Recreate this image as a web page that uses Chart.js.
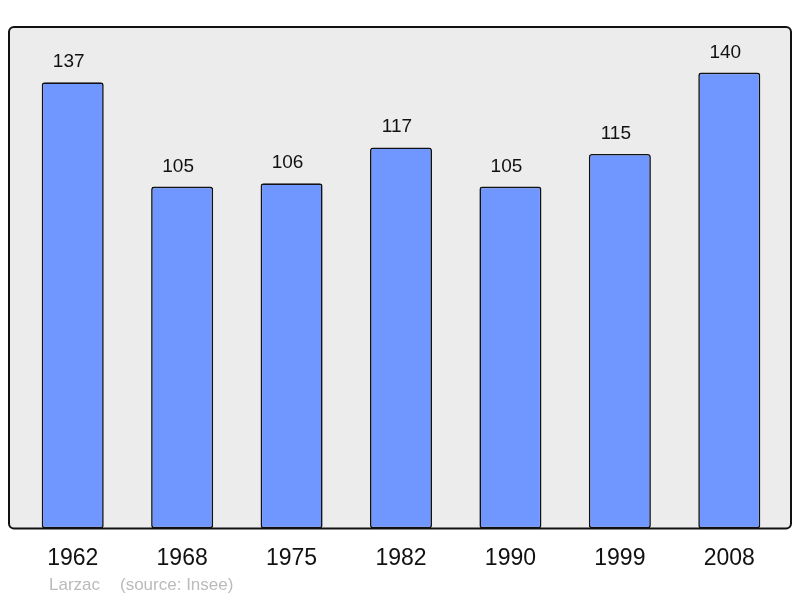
<!DOCTYPE html>
<html>
<head>
<meta charset="utf-8">
<script src="https://cdn.jsdelivr.net/npm/chart.js@4"></script>
<style>
  html, body { margin: 0; padding: 0; background: #fff; }
  #wrap { width: 800px; height: 598px; }
</style>
</head>
<body>
<div id="wrap"><canvas id="popChart" width="800" height="598"></canvas></div>
<script>
// Population data (Larzac, source: Insee)
const years = ['1962', '1968', '1975', '1982', '1990', '1999', '2008'];
const population = [137, 105, 106, 117, 105, 115, 140];
const footerPlace = 'Larzac';
const footerSource = '(source: Insee)';

// Grey rounded frame behind the plot
const framePlugin = {
  id: 'frame',
  beforeDraw(chart) {
    const { ctx, chartArea: a } = chart;
    const x = a.left - 9, y = a.top, w = (a.right + 7) - x, h = a.bottom - a.top;
    ctx.save();
    ctx.beginPath();
    ctx.roundRect(x, y, w, h, 5);
    ctx.fillStyle = '#ececec';
    ctx.fill();
    ctx.lineWidth = 2;
    ctx.strokeStyle = '#111';
    ctx.stroke();
    ctx.restore();
  }
};

// Numbers above bars + footer line
const labelPlugin = {
  id: 'valueLabels',
  afterDatasetsDraw(chart) {
    const { ctx } = chart;
    const meta = chart.getDatasetMeta(0);
    ctx.save();
    ctx.font = '19px "Liberation Sans", Arial, sans-serif';
    ctx.fillStyle = '#111';
    ctx.textAlign = 'center';
    ctx.textBaseline = 'alphabetic';
    meta.data.forEach((bar, i) => {
      ctx.fillText(String(population[i]), bar.x - 4, bar.y - 15);
    });
    ctx.font = '17px "Liberation Sans", Arial, sans-serif';
    ctx.fillStyle = '#bbbbbb';
    ctx.textAlign = 'left';
    ctx.fillText(footerPlace, 49, 590);
    ctx.fillText(footerSource, 120, 590);
    ctx.restore();
  }
};

new Chart(document.getElementById('popChart'), {
  type: 'bar',
  data: {
    labels: years,
    datasets: [{
      data: population,
      backgroundColor: '#7096ff',
      borderColor: '#111',
      borderWidth: 1.6,
      borderRadius: 3,
      borderSkipped: false,
      barPercentage: 0.567,
      categoryPercentage: 1
    }]
  },
  options: {
    responsive: false,
    animation: false,
    layout: { padding: { left: 18, right: 16, top: 27, bottom: 10 } },
    plugins: { legend: { display: false }, tooltip: { enabled: false } },
    scales: {
      x: {
        grid: { display: false, drawTicks: false },
        border: { display: false },
        ticks: {
          color: '#111',
          padding: 16,
          font: { family: '"Liberation Sans", Arial, sans-serif', size: 23 }
        }
      },
      y: {
        display: false,
        min: 0,
        max: 154
      }
    }
  },
  plugins: [framePlugin, labelPlugin]
});
</script>
</body>
</html>
